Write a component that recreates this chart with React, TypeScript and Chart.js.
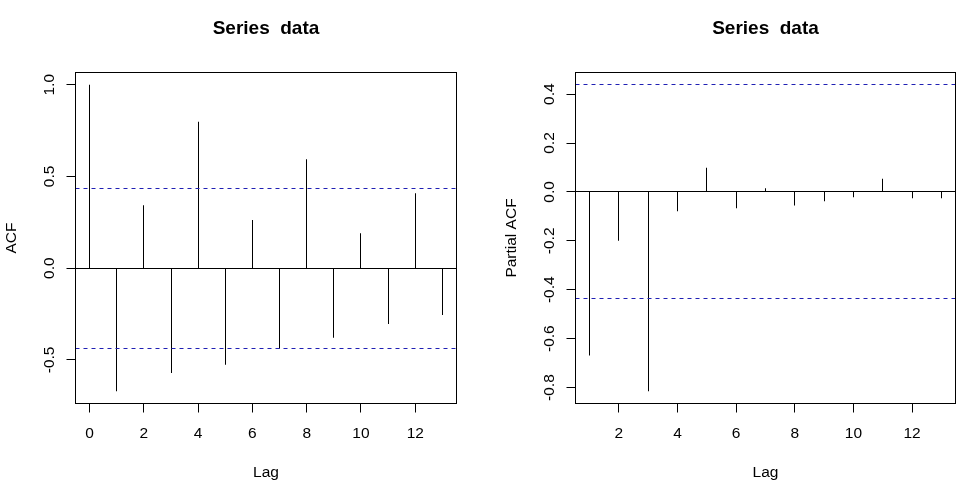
import React, { useEffect, useRef } from 'react';
import { Chart, registerables } from 'chart.js';

Chart.register(...registerables);

// ---- data ----
const acfLags = [0, 1, 2, 3, 4, 5, 6, 7, 8, 9, 10, 11, 12, 13];
const acfValues = [1.0, -0.671, 0.343, -0.571, 0.798, -0.527, 0.262, -0.44, 0.594, -0.38, 0.191, -0.304, 0.409, -0.256];
const pacfLags = [1, 2, 3, 4, 5, 6, 7, 8, 9, 10, 11, 12, 13];
const pacfValues = [-0.669, -0.2, -0.815, -0.079, 0.099, -0.067, 0.015, -0.055, -0.038, -0.022, 0.054, -0.026, -0.026];
const nObs = 20;

const acfXTicks = [0, 2, 4, 6, 8, 10, 12];
const acfYTicks = [-0.5, 0, 0.5, 1.0];
const acfYTickLabels = ['-0.5', '0.0', '0.5', '1.0'];
const pacfXTicks = [2, 4, 6, 8, 10, 12];
const pacfYTicks = [-0.8, -0.6, -0.4, -0.2, 0, 0.2, 0.4];
const pacfYTickLabels = ['-0.8', '-0.6', '-0.4', '-0.2', '0.0', '0.2', '0.4'];

const titleText = 'Series  data';
const xLabel = 'Lag';
const acfYLabel = 'ACF';
const pacfYLabel = 'Partial ACF';

const FONT = '"Liberation Sans", Arial, sans-serif';
const BLUE = '#2020b4';

function expand(lo: number, hi: number): [number, number] {
  const d = hi - lo;
  return [lo - 0.04 * d, hi + 0.04 * d];
}

type PanelProps = {
  lags: number[];
  values: number[];
  xTicks: number[];
  yTicks: number[];
  yTickLabels: string[];
  yLabel: string;
  padLeft: number;
  padRight: number;
};

const snap = (v: number) => Math.floor(v) + 0.5;
// nearest even pixel row (keeps a 1px coloured line's colour through chroma subsampling)
const snapEven = (v: number) => 2 * Math.round((v - 0.5) / 2) + 0.5;

// pixel-snap the elements the scales placed, so 1px strokes stay crisp
const snapPlugin = {
  id: 'snapPixels',
  afterDatasetsUpdate(chart: any) {
    chart.data.datasets.forEach((ds: any, i: number) => {
      const meta = chart.getDatasetMeta(i);
      if (meta.type === 'bar') {
        meta.data.forEach((el: any) => {
          el.x = snap(el.x);
        });
      } else {
        const f = ds.borderColor === BLUE ? snapEven : snap;
        meta.data.forEach((el: any) => {
          el.y = f(el.y);
        });
        if (meta.dataset) {
          delete meta.dataset._path;
        }
      }
    });
  },
};

const rPlugin = {
  id: 'rStyle',
  afterDraw(chart: any, _args: any, opts: any) {
    const ctx = chart.ctx as CanvasRenderingContext2D;
    const a = chart.chartArea;
    const xs = chart.scales.x;
    const ys = chart.scales.y;
    ctx.save();
    ctx.strokeStyle = '#000';
    ctx.lineWidth = 1;
    ctx.setLineDash([]);
    // box
    ctx.strokeRect(a.left, a.top, a.right - a.left, a.bottom - a.top);
    // ticks
    ctx.beginPath();
    for (const t of opts.xTicks) {
      const px = snap(xs.getPixelForValue(t));
      ctx.moveTo(px, a.bottom);
      ctx.lineTo(px, a.bottom + 9);
    }
    for (const t of opts.yTicks) {
      const py = snap(ys.getPixelForValue(t));
      ctx.moveTo(a.left, py);
      ctx.lineTo(a.left - 9, py);
    }
    ctx.stroke();

    ctx.fillStyle = '#000';
    ctx.font = `15.5px ${FONT}`;
    ctx.textAlign = 'center';
    ctx.textBaseline = 'alphabetic';
    for (const t of opts.xTicks) {
      ctx.fillText(String(t), xs.getPixelForValue(t), a.bottom + 34);
    }
    ctx.fillText(opts.xLabel, (a.left + a.right) / 2, a.bottom + 73);

    // rotated y tick labels
    opts.yTicks.forEach((t: number, i: number) => {
      ctx.save();
      ctx.translate(a.left - 22, ys.getPixelForValue(t));
      ctx.rotate(-Math.PI / 2);
      ctx.fillText(opts.yTickLabels[i], 0, 0);
      ctx.restore();
    });
    ctx.save();
    ctx.translate(a.left - 60, (a.top + a.bottom) / 2);
    ctx.rotate(-Math.PI / 2);
    ctx.fillText(opts.yLabel, 0, 0);
    ctx.restore();

    // title
    ctx.font = `bold 19px ${FONT}`;
    ctx.fillText(opts.title, (a.left + a.right) / 2, a.top - 38.5);
    ctx.restore();
  },
};

function Panel(props: PanelProps) {
  const ref = useRef<HTMLCanvasElement>(null);
  useEffect(() => {
    if (!ref.current) return;
    const clim = 1.96 / Math.sqrt(nObs);
    const [xMin, xMax] = expand(Math.min(...props.lags), Math.max(...props.lags));
    const [yMin, yMax] = expand(
      Math.min(-clim, ...props.values),
      Math.max(clim, ...props.values)
    );
    const refLine = (y: number, color: string, dash: number[]) => ({
      type: 'line',
      data: [
        { x: xMin, y },
        { x: xMax, y },
      ],
      borderColor: color,
      borderWidth: 1,
      borderDash: dash,
      borderDashOffset: 0,
      pointRadius: 0,
      order: 1,
    });
    const chart = new Chart(ref.current, {
      type: 'bar',
      data: {
        datasets: [
          {
            type: 'bar',
            data: props.lags.map((l, i) => ({ x: l, y: props.values[i] })),
            backgroundColor: '#000',
            borderWidth: 0,
            barThickness: 1,
            inflateAmount: 0,
            order: 3,
          } as any,
          refLine(0, '#000', []) as any,
          refLine(clim, BLUE, [4, 4]) as any,
          refLine(-clim, BLUE, [4, 4]) as any,
        ],
      },
      options: {
        animation: false,
        responsive: false,
        maintainAspectRatio: false,
        devicePixelRatio: 1,
        layout: {
          padding: { left: props.padLeft, right: props.padRight, top: 72.5, bottom: 85.5 },
        },
        scales: {
          x: { type: 'linear', min: xMin, max: xMax, display: false, offset: false },
          y: { type: 'linear', min: yMin, max: yMax, display: false },
        },
        plugins: {
          legend: { display: false },
          tooltip: { enabled: false },
          title: { display: false },
          rStyle: {
            xTicks: props.xTicks,
            yTicks: props.yTicks,
            yTickLabels: props.yTickLabels,
            yLabel: props.yLabel,
            xLabel: xLabel,
            title: titleText,
          },
        } as any,
      },
      plugins: [snapPlugin, rPlugin],
    });
    return () => chart.destroy();
  }, []);
  return <canvas ref={ref} width={484} height={489} style={{ display: 'block', width: 484, height: 489 }} />;
}

export default function App() {
  return (
    <div
      style={{
        position: 'absolute',
        left: 0,
        top: 0,
        width: 968,
        height: 489,
        display: 'flex',
        background: '#fff',
      }}
    >
      <Panel
        lags={acfLags}
        values={acfValues}
        xTicks={acfXTicks}
        yTicks={acfYTicks}
        yTickLabels={acfYTickLabels}
        yLabel={acfYLabel}
        padLeft={75.5}
        padRight={27.5}
      />
      <Panel
        lags={pacfLags}
        values={pacfValues}
        xTicks={pacfXTicks}
        yTicks={pacfYTicks}
        yTickLabels={pacfYTickLabels}
        yLabel={pacfYLabel}
        padLeft={91.5}
        padRight={12.5}
      />
    </div>
  );
}
